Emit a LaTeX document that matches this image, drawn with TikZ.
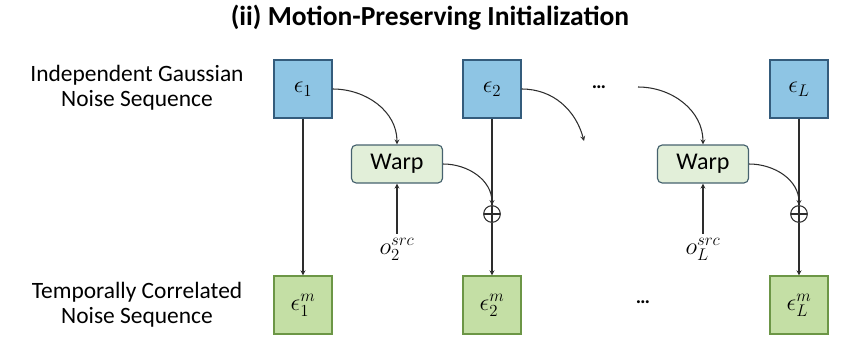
\documentclass[tikz,border=0pt]{standalone}
\usepackage{fontspec}
\setmainfont{Carlito}
\usetikzlibrary{arrows}

\definecolor{noisefill}{RGB}{142,197,228}
\definecolor{noiseedge}{RGB}{52,92,124}
\definecolor{warpedfill}{RGB}{196,223,165}
\definecolor{warpededge}{RGB}{108,150,70}
\definecolor{warpfill}{RGB}{226,239,217}
\definecolor{warpedge}{RGB}{70,98,110}
\definecolor{linegray}{RGB}{45,45,45}

\tikzstyle{noise}=[shape=rectangle,draw=noiseedge,fill=noisefill,line width=1.1pt,minimum size=1.74cm,inner sep=0pt,font=\fontsize{20.5}{20.5}\selectfont]
\tikzstyle{warped}=[shape=rectangle,draw=warpededge,fill=warpedfill,line width=1.1pt,minimum size=1.74cm,inner sep=0pt,font=\fontsize{20.5}{20.5}\selectfont]
\tikzstyle{warpbox}=[shape=rectangle,rounded corners=4pt,draw=warpedge,fill=warpfill,line width=1pt,minimum width=2.73cm,minimum height=1.14cm,font=\fontsize{20.5}{20.5}\selectfont]
\tikzstyle{rowlabel}=[align=center,font=\fontsize{20}{21.5}\selectfont]
\tikzstyle{arrowdecorate}=[->,>=stealth,draw=linegray,line width=0.9pt]

\begin{document}
\begin{tikzpicture}
      [x=0.03cm,y=-0.03cm,
      adder/.style={shape=circle,draw=linegray,line width=0.9pt,minimum size=0.5cm,inner sep=0pt,
        path picture={\draw[linegray,line width=0.9pt] (path picture bounding box.north) -- (path picture bounding box.south)
          (path picture bounding box.west) -- (path picture bounding box.east);}},
      flowlabel/.style={font=\fontsize{20.5}{20.5}\selectfont},
      dots/.style={font=\bfseries\fontsize{17}{17}\selectfont}]
      \useasboundingbox (0,0) rectangle (843,337);
      %% title and row labels
      \node (title) at (430,18) [font=\bfseries\fontsize{23.5}{23.5}\selectfont] {(ii) Motion-Preserving Initialization};
      \node (toplabel) at (137,88) [rowlabel] {Independent Gaussian\\Noise Sequence};
      \node (botlabel) at (137,305) [rowlabel] {Temporally Correlated\\Noise Sequence};

      %% noise boxes
      \foreach \nodename/\x/\sub in {e1/303/1, e2/492/2, eL/799/L}
      {
        \node (\nodename) at (\x,89) [noise] {$\epsilon_{\sub}$};
      }
      \foreach \nodename/\x/\sub in {m1/303/1, m2/492/2, mL/799/L}
      {
        \node (\nodename) at (\x,305) [warped] {$\epsilon_{\sub}^{m}$};
      }

      %% warp, adder and flow
      \foreach \k/\x/\px in {2/397/492, L/703/799}
      {
        \node (w\k) at (\x,164) [warpbox] {Warp};
        \node (p\k) at (\px,214) [adder] {};
        \node (o\k) at (\x,249) [flowlabel] {$o_{\k}^{src}$};
      }
      \coordinate (c2) at (584,141);
      \coordinate (cL) at (638,87);
      \node (dtop) at (599,87) [dots] {\dots};
      \node (dbot) at (643,302) [dots] {\dots};

      %% edges
      \path
      \foreach \startnode/\endnode in {e1/m1, p2/m2, pL/mL, o2/w2, oL/wL}
      {
        (\startnode) edge[arrowdecorate] (\endnode)
      };
      \draw[linegray,line width=0.9pt] (e2) -- (p2) (eL) -- (pL);
      \path
      \foreach \startnode/\endnode/\angle in {e1.east/w2.north/90, w2.east/p2.north/90,
        e2.east/c2/105, cL/wL.north/90, wL.east/pL.north/90}
      {
        (\startnode) edge[arrowdecorate,out=0,in=\angle] (\endnode)
      };
    \end{tikzpicture}
\end{document}
